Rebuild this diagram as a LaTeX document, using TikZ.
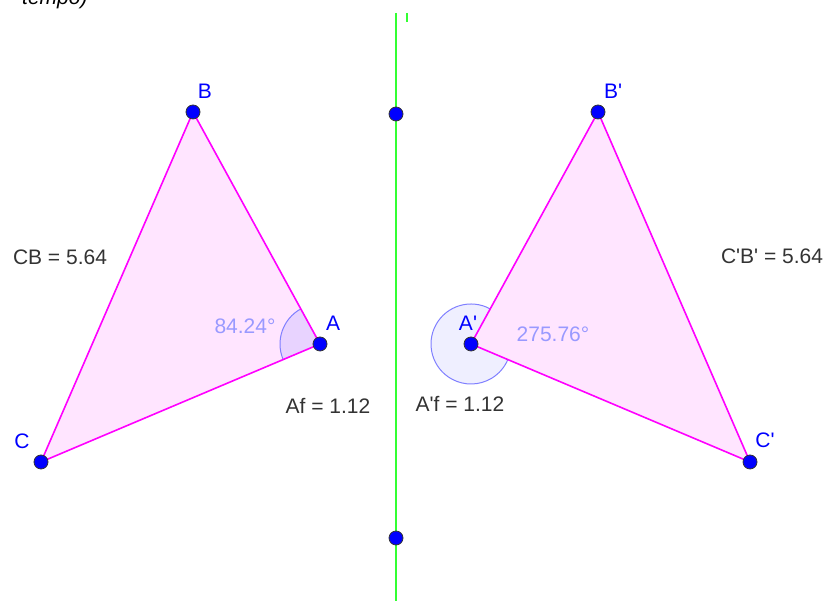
\documentclass[tikz,border=0pt]{standalone}
\usepackage{fontspec}
\setmainfont{Liberation Sans}
\usepackage{tikz}
\usetikzlibrary{positioning, calc}
\definecolor{ggmag}{HTML}{FF00FF}
\definecolor{ggblue}{HTML}{0000FF}
\definecolor{gggreen}{HTML}{33FF33}
\definecolor{ggangle}{HTML}{7F7FFF}
\definecolor{ggangletxt}{HTML}{9999FF}
\definecolor{ggtext}{HTML}{333333}
\newcommand{\ap}{\textquotesingle}
\tikzset{
  pt/.style={circle, fill=ggblue, draw=black!80, line width=0.8pt, inner sep=0pt, minimum size=14pt},
  ptlabel/.style={text=ggblue, font=\fontsize{21}{23}\selectfont, inner sep=0pt},
  vallabel/.style={text=ggtext, font=\fontsize{21}{23}\selectfont, inner sep=0pt},
  anglabel/.style={text=ggangletxt, font=\fontsize{21}{23}\selectfont, inner sep=0pt}
}

\begin{document}
\begin{tikzpicture}[x=1pt, y=1pt]
        \useasboundingbox (0,0) rectangle (824,601);
        \clip (0,0) rectangle (824,601);
        % Spiegelachse f
        \draw[gggreen, line width=1.6pt] (396,588)--(396,-2);
        \draw[gggreen, line width=1.2pt] (407,588)--(407,579);
        % Eckpunkte
        \coordinate (A) at (320,257);
        \coordinate (B) at (193,489);
        \coordinate (C) at (41,139);
        \coordinate (A') at (471,257);
        \coordinate (B') at (598,489);
        \coordinate (C') at (750,139);
        % Dreiecke
        \fill[ggmag, opacity=0.1] (A)--(B)--(C)--cycle;
        \fill[ggmag, opacity=0.1] (A')--(B')--(C')--cycle;
        % Winkel
        \fill[ggangle, opacity=0.18] (A)--++(118.7:40) arc (118.7:202.9:40)--cycle;
        \draw[ggangle, line width=1pt] (A)++(118.7:40) arc (118.7:202.9:40);
        \fill[ggangle, opacity=0.12] (A')--++(61.3:40) arc (61.3:337.1:40)--cycle;
        \draw[ggangle, line width=1pt] (A')++(61.3:40) arc (61.3:337.1:40);
        \draw[ggmag, line width=1.6pt] (A)--(B)--(C)--cycle;
        \draw[ggmag, line width=1.6pt] (A')--(B')--(C')--cycle;
        % Punkte
        \foreach \n in {A, B, C, A', B', C'}{
          \node[pt] (p\n) at (\n) {};
        }
        \node[pt] (f1) at (396,487) {};
        \node[pt] (f2) at (396,63) {};
        % Beschriftungen
        \node[ptlabel] (lB) at (205,510) {B};
        \node[ptlabel] (lA) at (333,278) {A};
        \node[ptlabel] (lC) at (22,160) {C};
        \node[ptlabel] (lB') at (613,510) {B\ap};
        \node[ptlabel] (lA') at (468,278) {A\ap};
        \node[ptlabel] (lC') at (765,161) {C\ap};
        \node[vallabel] (cb) at (60,344) {CB = 5.64};
        \node[vallabel] (cb') at (772,345) {C\ap B\ap\ = 5.64};
        \node[vallabel] (af) at (328,195) {Af = 1.12};
        \node[vallabel] (af') at (460,197) {A\ap f = 1.12};
        \node[anglabel] (w) at (245,275) {84.24°};
        \node[anglabel] (w') at (553,267) {275.76°};
        \node[anchor=base west, inner sep=0pt, font=\fontsize{21}{22}\selectfont\itshape] (tempo) at (22,596) {tempo)};
      \end{tikzpicture}
\end{document}
